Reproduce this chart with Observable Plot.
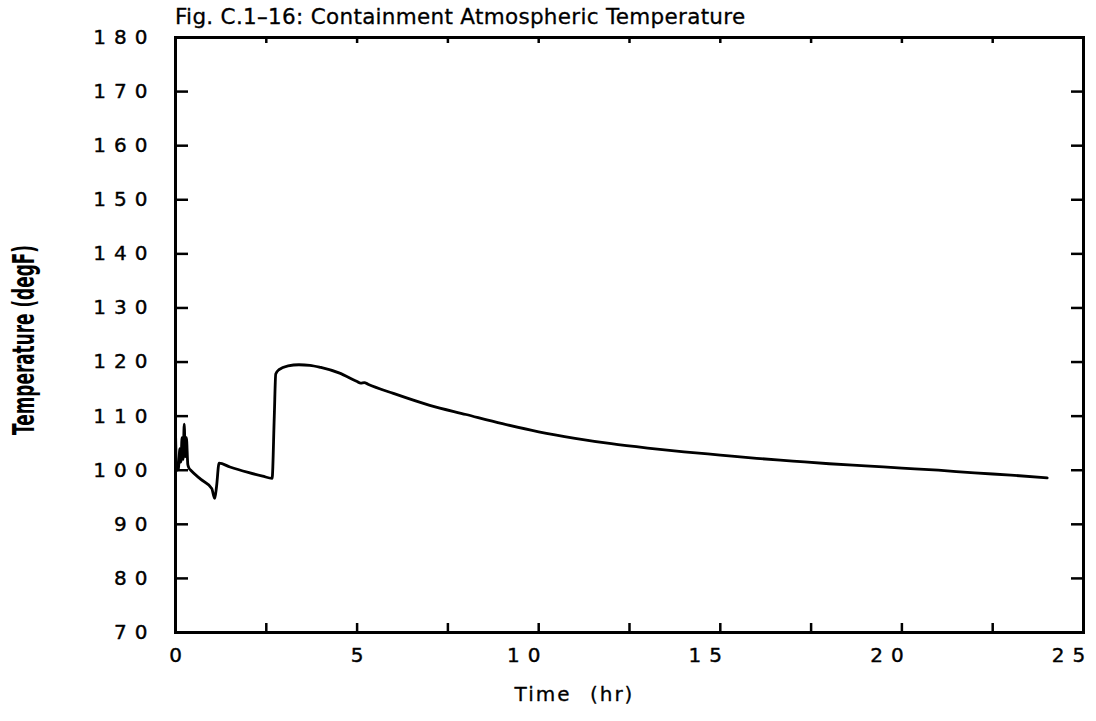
<!DOCTYPE html>
<html>
<head>
<meta charset="utf-8">
<script src="https://cdn.jsdelivr.net/npm/d3@7"></script>
<script src="https://cdn.jsdelivr.net/npm/@observablehq/plot@0.6"></script>
<style>
  html, body { margin: 0; padding: 0; background: #fff; }
  #wrap { position: relative; width: 1096px; height: 721px; }
  #title { position: absolute; left: 175px; top: 4px; font-family: "DejaVu Sans", sans-serif; font-size: 21.5px; color: #000; white-space: nowrap; letter-spacing: 0.3px; z-index: 2; -webkit-text-stroke: 0.3px #000; }
  svg { overflow: visible; }
</style>
</head>
<body>
<div id="wrap">
  <div id="title">Fig. C.1–16: Containment Atmospheric Temperature</div>
  <div id="chart"></div>
</div>
<script>
// Data
const timeHr = [0, 0.03, 0.08, 0.12, 0.15, 0.18, 0.21, 0.24, 0.27, 0.3, 0.34, 0.38, 0.42,
  0.7, 1.0, 1.05, 1.08, 1.13, 1.2, 1.5, 2.0, 2.4, 2.66, 2.72, 2.76, 2.85, 3.1, 3.4, 3.7,
  4.0, 4.5, 5.0, 5.1, 5.2, 5.3, 6.0, 7.0, 8.0, 9.0, 10, 11, 12, 13, 14, 15, 16, 17, 18,
  19, 20, 21, 22, 23, 24.0];
const tempF = [107.5, 100, 100.2, 104, 101.5, 106, 102, 108.5, 102.5, 106, 101, 100.3, 100,
  98.3, 96.6, 95.3, 94.8, 97, 101.3, 100.6, 99.6, 98.9, 98.5, 110, 117.8, 118.6, 119.3, 119.5, 119.4,
  119.0, 118.0, 116.4, 116.1, 116.2, 115.9, 114.2, 112.0, 110.3, 108.6, 107.1, 105.9, 104.9, 104.1, 103.4, 102.8, 102.2, 101.7, 101.2,
  100.8, 100.4, 100.0, 99.5, 99.1, 98.6];

const xTickValues = [2.5, 5, 7.5, 10, 12.5, 15, 17.5, 20, 22.5];
const yTickValues = [80, 90, 100, 110, 120, 130, 140, 150, 160, 170];
const xLabelValues = [0, 5, 10, 15, 20, 25];
const yLabelValues = [70, 80, 90, 100, 110, 120, 130, 140, 150, 160, 170, 180];
const xTitle = "Time (hr)";
const yTitle = "Temperature (degF)";

const series = timeHr.map((t, i) => ({t, T: tempF[i]}));

const W = 1096, H = 721, mL = 175, mR = 13, mT = 37, mB = 89;
const pxPerHr = (W - mL - mR) / 25;
const pxPerDeg = (H - mT - mB) / 110;
const font = "DejaVu Sans, sans-serif";

const chart = Plot.plot({
  width: W, height: H,
  marginLeft: mL, marginRight: mR, marginTop: mT, marginBottom: mB,
  style: {background: "#fff", overflow: "visible"},
  x: {domain: [0, 25], axis: null},
  y: {domain: [70, 180], axis: null},
  marks: [
    // inward ticks
    Plot.ruleX(xTickValues, {x: d => d, y1: 70, y2: 70 + 9 / pxPerDeg, stroke: "#000", strokeWidth: 2.5}),
    Plot.ruleX(xTickValues, {x: d => d, y1: 180, y2: 180 - 6 / pxPerDeg, stroke: "#000", strokeWidth: 2.5}),
    Plot.ruleY(yTickValues, {y: d => d, x1: 0, x2: 13 / pxPerHr, stroke: "#000", strokeWidth: 2.5}),
    Plot.ruleY(yTickValues, {y: d => d, x1: 25, x2: 25 - 12 / pxPerHr, stroke: "#000", strokeWidth: 2.5}),
    Plot.frame({stroke: "#000", strokeWidth: 3}),
    Plot.line(series, {x: "t", y: "T", stroke: "#000", strokeWidth: 2.8, strokeLinejoin: "round", curve: "monotone-x"}),
    // tick labels
    Plot.text(yLabelValues, {y: d => d, text: d => String(d), frameAnchor: "left", textAnchor: "end",
      dx: -20, fontSize: 20, fontFamily: font, fill: "#000", stroke: "#000", strokeWidth: 0.4}),
    Plot.text(xLabelValues.filter(d => d < 10), {x: d => d, text: d => String(d), frameAnchor: "bottom",
      dy: 29, dx: 4, fontSize: 20, fontFamily: font, fill: "#000", stroke: "#000", strokeWidth: 0.4}),
    Plot.text(xLabelValues.filter(d => d >= 10), {x: d => d, text: d => String(d), frameAnchor: "bottom",
      dy: 29, dx: -11, fontSize: 20, fontFamily: font, fill: "#000", stroke: "#000", strokeWidth: 0.4}),
    Plot.text([xTitle], {text: d => d, frameAnchor: "bottom", dx: -55, dy: 68, fontSize: 20,
      fontFamily: font, fill: "#000", stroke: "#000", strokeWidth: 0.3}),
    Plot.text([yTitle], {text: d => d, frameAnchor: "left", textAnchor: "start", dx: -151, dy: 100, rotate: -90,
      fontSize: 31, fontWeight: "bold", fontFamily: font, fill: "#000"})
  ]
});

document.getElementById("chart").appendChild(chart);
const groups = d3.select(chart).selectAll('g[aria-label="text"]').nodes();
// order: y labels, x labels (1-digit), x labels (2-digit), x title, y title
[0, 1, 2].forEach(i => d3.select(groups[i]).selectAll("text").style("letter-spacing", "8px"));
d3.select(groups[3]).selectAll("text").style("letter-spacing", "2px").style("word-spacing", "10px");
d3.select(groups[4]).selectAll("text").attr("textLength", 190).attr("lengthAdjust", "spacingAndGlyphs");
</script>
</body>
</html>
